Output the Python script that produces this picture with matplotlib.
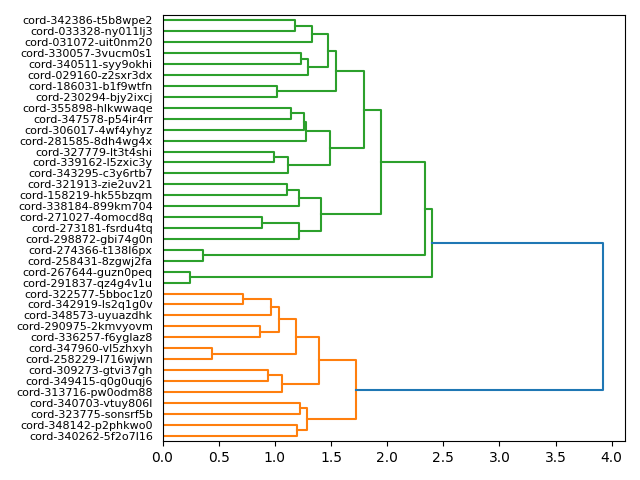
import numpy as np
import matplotlib
matplotlib.use("Agg")
import matplotlib.pyplot as plt

# leaf labels, top to bottom as shown
labels = [
    "cord-342386-t5b8wpe2", "cord-033328-ny011lj3", "cord-031072-uit0nm20",
    "cord-330057-3vucm0s1", "cord-340511-syy9okhi", "cord-029160-z2sxr3dx",
    "cord-186031-b1f9wtfn", "cord-230294-bjy2ixcj", "cord-355898-hlkwwaqe",
    "cord-347578-p54ir4rr", "cord-306017-4wf4yhyz", "cord-281585-8dh4wg4x",
    "cord-327779-lt3t4shi", "cord-339162-l5zxic3y", "cord-343295-c3y6rtb7",
    "cord-321913-zie2uv21", "cord-158219-hk55bzqm", "cord-338184-899km704",
    "cord-271027-4omocd8q", "cord-273181-fsrdu4tq", "cord-298872-gbi74g0n",
    "cord-274366-t138l6px", "cord-258431-8zgwj2fa", "cord-267644-guzn0peq",
    "cord-291837-qz4g4v1u", "cord-322577-5bboc1z0", "cord-342919-ls2q1g0v",
    "cord-348573-uyuazdhk", "cord-290975-2kmvyovm", "cord-336257-f6yglaz8",
    "cord-347960-vl5zhxyh", "cord-258229-l716wjwn", "cord-309273-gtvi37gh",
    "cord-349415-q0g0uqj6", "cord-313716-pw0odm88", "cord-340703-vtuy806l",
    "cord-323775-sonsrf5b", "cord-348142-p2phkwo0", "cord-340262-5f2o7l16",
]

# merges: child a, child b, distance  (new cluster id = n_leaves + row)
merge_a = [0, 39, 3, 41, 40, 6, 43, 8, 46, 47, 12, 49, 48, 45, 15, 53, 18, 55, 54, 52,
           21, 58, 23, 60, 25, 63, 28, 64, 30, 66, 32, 69, 68, 35, 37, 72, 71, 62]
merge_b = [1, 2, 4, 5, 42, 7, 44, 9, 10, 11, 13, 14, 50, 51, 16, 17, 19, 20, 56, 57,
           22, 59, 24, 61, 26, 27, 29, 65, 31, 67, 33, 34, 70, 36, 38, 73, 74, 75]
merge_h = [1.178, 1.33, 1.23, 1.30, 1.47, 1.023, 1.543, 1.14, 1.256, 1.274, 0.997, 1.122,
           1.49, 1.79, 1.105, 1.213, 0.889, 1.213, 1.41, 1.946, 0.364, 2.335, 0.244, 2.40,
           0.72, 0.97, 0.87, 1.04, 0.44, 1.185, 0.943, 1.068, 1.39, 1.22, 1.194, 1.29,
           1.72, 3.925]

n = len(labels)
ypos = {i: 5 + 10 * (n - 1 - i) for i in range(n)}
xpos = {i: 0.0 for i in range(n)}
for k, (a, b, h) in enumerate(zip(merge_a, merge_b, merge_h)):
    ypos[n + k] = (ypos[a] + ypos[b]) / 2
    xpos[n + k] = h

threshold = 0.7 * max(merge_h)
palette = ["C1", "C2", "C3", "C4"]
colors = {}

def leaves_of(c):
    if c < n:
        return [c]
    k = c - n
    return leaves_of(merge_a[k]) + leaves_of(merge_b[k])

# clusters below threshold whose parent is above -> get a palette colour
roots = []
for k, h in enumerate(merge_h):
    if h >= threshold:
        for ch in (merge_a[k], merge_b[k]):
            if ch >= n and merge_h[ch - n] < threshold:
                roots.append(ch)
roots.sort(key=lambda c: min(ypos[l] for l in leaves_of(c)))
def paint(c, col):
    if c < n:
        return
    colors[c] = col
    paint(merge_a[c - n], col)
    paint(merge_b[c - n], col)
for i, r in enumerate(roots):
    paint(r, palette[i % len(palette)])

fig = plt.figure(figsize=(6.4, 4.8), dpi=100)
ax = fig.add_axes([162.5 / 640, 1 - 441 / 480, (625.3 - 162.5) / 640, (441 - 15) / 480])
for k, (a, b, h) in enumerate(zip(merge_a, merge_b, merge_h)):
    col = colors.get(n + k, "C0")
    ax.plot([xpos[a], h, h, xpos[b]], [ypos[a], ypos[a], ypos[b], ypos[b]],
            color=col, lw=1.5)

ax.set_xlim(0, max(merge_h) * 1.05)
ax.set_ylim(0, 10 * n)
ax.set_yticks([ypos[i] for i in range(n)])
ax.set_yticklabels(labels, fontsize=8)
for line in ax.get_yticklines():
    line.set_visible(False)

fig.savefig("out.png", dpi=100)
